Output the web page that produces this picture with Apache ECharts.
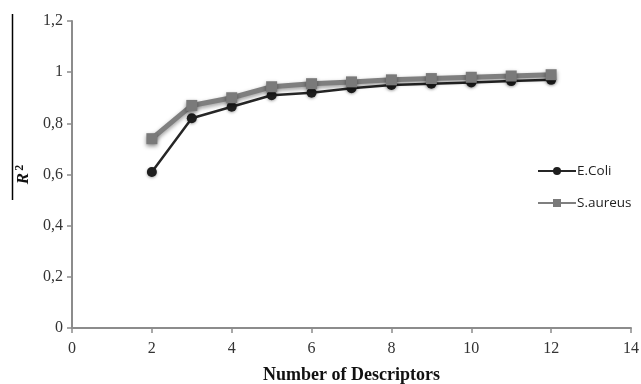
<!DOCTYPE html>
<html>
<head>
<meta charset="utf-8">
<script src="https://cdn.jsdelivr.net/npm/echarts@6/dist/echarts.min.js"></script>
<style>
  html, body { margin: 0; padding: 0; background: #fff; }
  #chart { width: 641px; height: 384px; }
</style>
</head>
<body>
<div id="chart"></div>
<script>
// number of descriptors
var descriptors = [2, 3, 4, 5, 6, 7, 8, 9, 10, 11, 12];
// R2 values
var eColi = [0.61, 0.82, 0.865, 0.91, 0.92, 0.937, 0.95, 0.955, 0.96, 0.965, 0.97];
var sAureus = [0.74, 0.87, 0.9, 0.943, 0.955, 0.962, 0.97, 0.975, 0.98, 0.985, 0.99];
var seriesNames = ['E.Coli', 'S.aureus'];

function pairs(ys) {
    return descriptors.map(function (x, i) { return [x, ys[i]]; });
}

var serif = '"Liberation Serif", "DejaVu Serif", serif';

var myChart = echarts.init(document.getElementById('chart'));
myChart.setOption({
    animation: false,
    backgroundColor: '#fff',
    grid: { left: 72, right: 10, top: 21, bottom: 56, outerBoundsMode: 'none' },
    legend: {
        orient: 'vertical',
        left: 532,
        top: 159,
        itemWidth: 38,
        itemHeight: 10,
        itemGap: 18,
        textStyle: { fontFamily: '"Open Sans", "Liberation Sans", sans-serif', fontSize: 13.5, color: '#222', padding: [0, 0, 0, -4] },
        data: seriesNames
    },
    xAxis: {
        type: 'value',
        min: 0,
        max: 14,
        interval: 2,
        name: 'Number of Descriptors',
        nameLocation: 'middle',
        nameGap: 38,
        nameTextStyle: { fontFamily: serif, fontWeight: 'bold', fontSize: 18, color: '#111' },
        axisLine: { show: true, lineStyle: { color: '#8c8c8c', width: 2 } },
        axisTick: { show: true, length: 5, lineStyle: { color: '#8c8c8c', width: 1.5 } },
        axisLabel: { fontFamily: serif, fontSize: 16, color: '#333', margin: 13 },
        splitLine: { show: false }
    },
    yAxis: {
        type: 'value',
        min: 0,
        max: 1.2,
        interval: 0.2,
        name: '{r|R}{s|2}',
        nameLocation: 'middle',
        nameGap: 29,
        nameRotate: 90,
        nameTextStyle: {
            rich: {
                r: { fontFamily: serif, fontStyle: 'italic', fontWeight: 'bold', fontSize: 17, color: '#111' },
                s: { fontFamily: serif, fontWeight: 'bold', fontSize: 12, color: '#111', verticalAlign: 'bottom', padding: [0, 0, 8, 2] }
            }
        },
        axisLine: { show: true, lineStyle: { color: '#8c8c8c', width: 2 } },
        axisTick: { show: true, length: 5, lineStyle: { color: '#8c8c8c', width: 1.5 } },
        axisLabel: {
            fontFamily: serif, fontSize: 16, color: '#333', margin: 9,
            formatter: function (v) {
                return String(Math.round(v * 10) / 10).replace('.', ',');
            }
        },
        splitLine: { show: false }
    },
    graphic: [{
        type: 'line',
        shape: { x1: 12.5, y1: 14, x2: 12.5, y2: 200 },
        style: { stroke: '#000', lineWidth: 1.5 }
    }],
    series: [{
        name: seriesNames[1],
        type: 'line',
        data: pairs(sAureus),
        symbol: 'rect',
        symbolSize: 11,
        z: 2,
        itemStyle: { color: '#7a7a7a', shadowBlur: 4, shadowColor: 'rgba(0,0,0,0.45)', shadowOffsetY: 2 },
        lineStyle: { color: '#7f7f7f', width: 5, shadowBlur: 4, shadowColor: 'rgba(0,0,0,0.4)', shadowOffsetY: 2 }
    }, {
        name: seriesNames[0],
        type: 'line',
        data: pairs(eColi),
        symbol: 'circle',
        symbolSize: 10,
        z: 1,
        itemStyle: { color: '#1e1e1e', shadowBlur: 3, shadowColor: 'rgba(0,0,0,0.35)', shadowOffsetY: 1 },
        lineStyle: { color: '#262626', width: 2.5 }
    }]
});
</script>
</body>
</html>
